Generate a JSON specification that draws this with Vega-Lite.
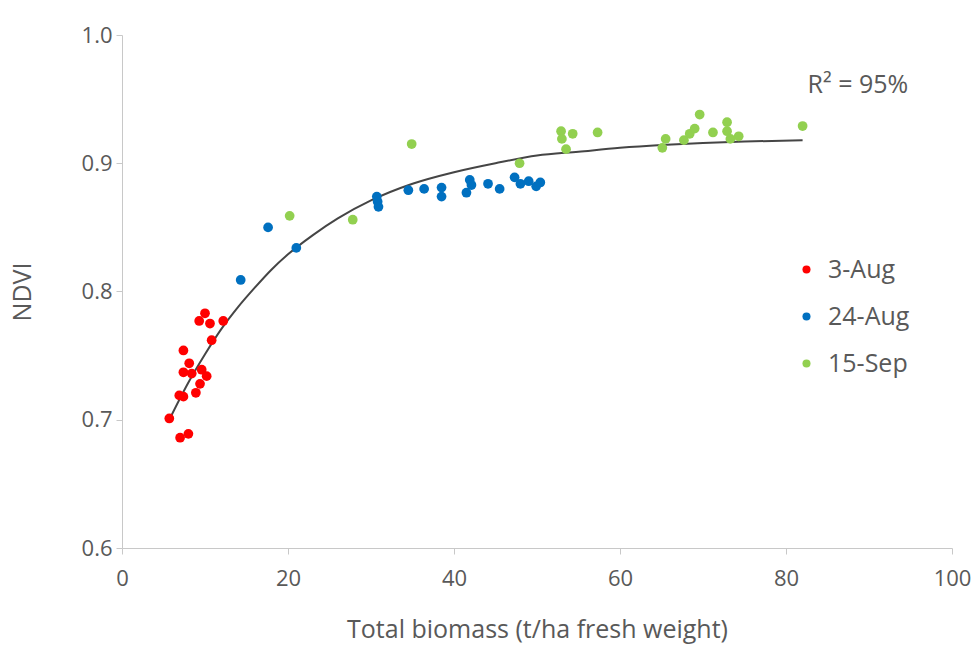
{
  "$schema": "https://vega.github.io/schema/vega-lite/v6.json",
  "width": 830,
  "height": 513,
  "autosize": "none",
  "padding": {"left": 122, "top": 35, "right": 22, "bottom": 98},
  "background": "white",
  "config": {
    "view": {"stroke": null},
    "font": "Open Sans",
    "axis": {"grid": false, "domainColor": "#c8c8c8", "tickColor": "#c8c8c8", "labelColor": "#595959", "titleColor": "#595959", "labelFont": "Open Sans", "titleFont": "Open Sans", "labelFontSize": 22, "titleFontSize": 25, "titleFontWeight": "normal", "tickSize": 6, "labelFlush": false}
  },
  "datasets": {
    "pts": [
      {"biomass": 10.0, "ndvi": 0.783, "date": "3-Aug"},
      {"biomass": 9.3, "ndvi": 0.777, "date": "3-Aug"},
      {"biomass": 10.6, "ndvi": 0.775, "date": "3-Aug"},
      {"biomass": 12.2, "ndvi": 0.777, "date": "3-Aug"},
      {"biomass": 10.8, "ndvi": 0.762, "date": "3-Aug"},
      {"biomass": 7.4, "ndvi": 0.754, "date": "3-Aug"},
      {"biomass": 8.1, "ndvi": 0.744, "date": "3-Aug"},
      {"biomass": 7.4, "ndvi": 0.737, "date": "3-Aug"},
      {"biomass": 8.4, "ndvi": 0.736, "date": "3-Aug"},
      {"biomass": 9.6, "ndvi": 0.739, "date": "3-Aug"},
      {"biomass": 10.2, "ndvi": 0.734, "date": "3-Aug"},
      {"biomass": 9.4, "ndvi": 0.728, "date": "3-Aug"},
      {"biomass": 6.9, "ndvi": 0.719, "date": "3-Aug"},
      {"biomass": 7.4, "ndvi": 0.718, "date": "3-Aug"},
      {"biomass": 8.9, "ndvi": 0.721, "date": "3-Aug"},
      {"biomass": 5.7, "ndvi": 0.701, "date": "3-Aug"},
      {"biomass": 7.0, "ndvi": 0.686, "date": "3-Aug"},
      {"biomass": 8.0, "ndvi": 0.689, "date": "3-Aug"},
      {"biomass": 14.3, "ndvi": 0.809, "date": "24-Aug"},
      {"biomass": 17.6, "ndvi": 0.850, "date": "24-Aug"},
      {"biomass": 21.0, "ndvi": 0.834, "date": "24-Aug"},
      {"biomass": 30.7, "ndvi": 0.874, "date": "24-Aug"},
      {"biomass": 30.8, "ndvi": 0.870, "date": "24-Aug"},
      {"biomass": 30.9, "ndvi": 0.866, "date": "24-Aug"},
      {"biomass": 34.5, "ndvi": 0.879, "date": "24-Aug"},
      {"biomass": 36.4, "ndvi": 0.880, "date": "24-Aug"},
      {"biomass": 38.5, "ndvi": 0.881, "date": "24-Aug"},
      {"biomass": 38.5, "ndvi": 0.874, "date": "24-Aug"},
      {"biomass": 41.5, "ndvi": 0.877, "date": "24-Aug"},
      {"biomass": 41.9, "ndvi": 0.887, "date": "24-Aug"},
      {"biomass": 42.1, "ndvi": 0.883, "date": "24-Aug"},
      {"biomass": 44.1, "ndvi": 0.884, "date": "24-Aug"},
      {"biomass": 45.5, "ndvi": 0.880, "date": "24-Aug"},
      {"biomass": 47.3, "ndvi": 0.889, "date": "24-Aug"},
      {"biomass": 48.0, "ndvi": 0.884, "date": "24-Aug"},
      {"biomass": 49.0, "ndvi": 0.886, "date": "24-Aug"},
      {"biomass": 49.9, "ndvi": 0.882, "date": "24-Aug"},
      {"biomass": 50.4, "ndvi": 0.885, "date": "24-Aug"},
      {"biomass": 20.2, "ndvi": 0.859, "date": "15-Sep"},
      {"biomass": 27.8, "ndvi": 0.856, "date": "15-Sep"},
      {"biomass": 34.9, "ndvi": 0.915, "date": "15-Sep"},
      {"biomass": 47.9, "ndvi": 0.900, "date": "15-Sep"},
      {"biomass": 52.9, "ndvi": 0.925, "date": "15-Sep"},
      {"biomass": 53.0, "ndvi": 0.919, "date": "15-Sep"},
      {"biomass": 54.3, "ndvi": 0.923, "date": "15-Sep"},
      {"biomass": 53.5, "ndvi": 0.911, "date": "15-Sep"},
      {"biomass": 57.3, "ndvi": 0.924, "date": "15-Sep"},
      {"biomass": 65.1, "ndvi": 0.912, "date": "15-Sep"},
      {"biomass": 65.5, "ndvi": 0.919, "date": "15-Sep"},
      {"biomass": 67.7, "ndvi": 0.918, "date": "15-Sep"},
      {"biomass": 68.4, "ndvi": 0.923, "date": "15-Sep"},
      {"biomass": 69.0, "ndvi": 0.927, "date": "15-Sep"},
      {"biomass": 69.6, "ndvi": 0.938, "date": "15-Sep"},
      {"biomass": 71.2, "ndvi": 0.924, "date": "15-Sep"},
      {"biomass": 72.9, "ndvi": 0.932, "date": "15-Sep"},
      {"biomass": 72.9, "ndvi": 0.925, "date": "15-Sep"},
      {"biomass": 73.3, "ndvi": 0.919, "date": "15-Sep"},
      {"biomass": 74.3, "ndvi": 0.921, "date": "15-Sep"},
      {"biomass": 82.0, "ndvi": 0.929, "date": "15-Sep"}
    ],
    "fit": [
      {"biomass": 5.7, "ndvi": 0.700},
      {"biomass": 8, "ndvi": 0.729},
      {"biomass": 10, "ndvi": 0.751},
      {"biomass": 12, "ndvi": 0.771},
      {"biomass": 14, "ndvi": 0.788},
      {"biomass": 16, "ndvi": 0.803},
      {"biomass": 18, "ndvi": 0.817},
      {"biomass": 20, "ndvi": 0.829},
      {"biomass": 23, "ndvi": 0.844},
      {"biomass": 26, "ndvi": 0.857},
      {"biomass": 30, "ndvi": 0.871},
      {"biomass": 35, "ndvi": 0.884},
      {"biomass": 40, "ndvi": 0.893},
      {"biomass": 45, "ndvi": 0.900},
      {"biomass": 50, "ndvi": 0.906},
      {"biomass": 55, "ndvi": 0.909},
      {"biomass": 60, "ndvi": 0.912},
      {"biomass": 65, "ndvi": 0.9142},
      {"biomass": 70, "ndvi": 0.9158},
      {"biomass": 75, "ndvi": 0.9169},
      {"biomass": 82, "ndvi": 0.918}
    ],
    "note": [{"biomass": 82.6, "ndvi": 0.961, "label": "R² = 95%"}]
  },
  "layer": [
    {
      "data": {"name": "fit"},
      "mark": {"type": "line", "color": "#454545", "strokeWidth": 2, "interpolate": "monotone"},
      "encoding": {
        "x": {"field": "biomass", "type": "quantitative", "scale": {"domain": [0, 100]}, "axis": {"values": [0, 20, 40, 60, 80, 100], "title": "Total biomass (t/ha fresh weight)", "labelPadding": 14, "titlePadding": 28}},
        "y": {"field": "ndvi", "type": "quantitative", "scale": {"domain": [0.6, 1.0], "zero": false}, "axis": {"values": [0.6, 0.7, 0.8, 0.9, 1.0], "format": ".1f", "title": "NDVI", "labelPadding": 4, "titlePadding": 46}}
      }
    },
    {
      "data": {"name": "pts"},
      "mark": {"type": "circle", "size": 95, "opacity": 1},
      "encoding": {
        "x": {"field": "biomass", "type": "quantitative"},
        "y": {"field": "ndvi", "type": "quantitative"},
        "color": {
          "field": "date", "type": "nominal",
          "scale": {"domain": ["3-Aug", "24-Aug", "15-Sep"], "range": ["#ff0000", "#0070c0", "#92d050"]},
          "legend": {"title": null, "orient": "none", "legendX": 672, "legendY": 222, "labelFontSize": 25, "labelColor": "#595959", "labelFont": "Open Sans", "symbolType": "circle", "symbolSize": 65, "rowPadding": 21, "labelOffset": 9}
        }
      }
    },
    {
      "data": {"name": "note"},
      "mark": {"type": "text", "align": "left", "baseline": "middle", "fontSize": 25, "color": "#595959", "font": "Open Sans"},
      "encoding": {
        "x": {"field": "biomass", "type": "quantitative"},
        "y": {"field": "ndvi", "type": "quantitative"},
        "text": {"field": "label"}
      }
    }
  ]
}
